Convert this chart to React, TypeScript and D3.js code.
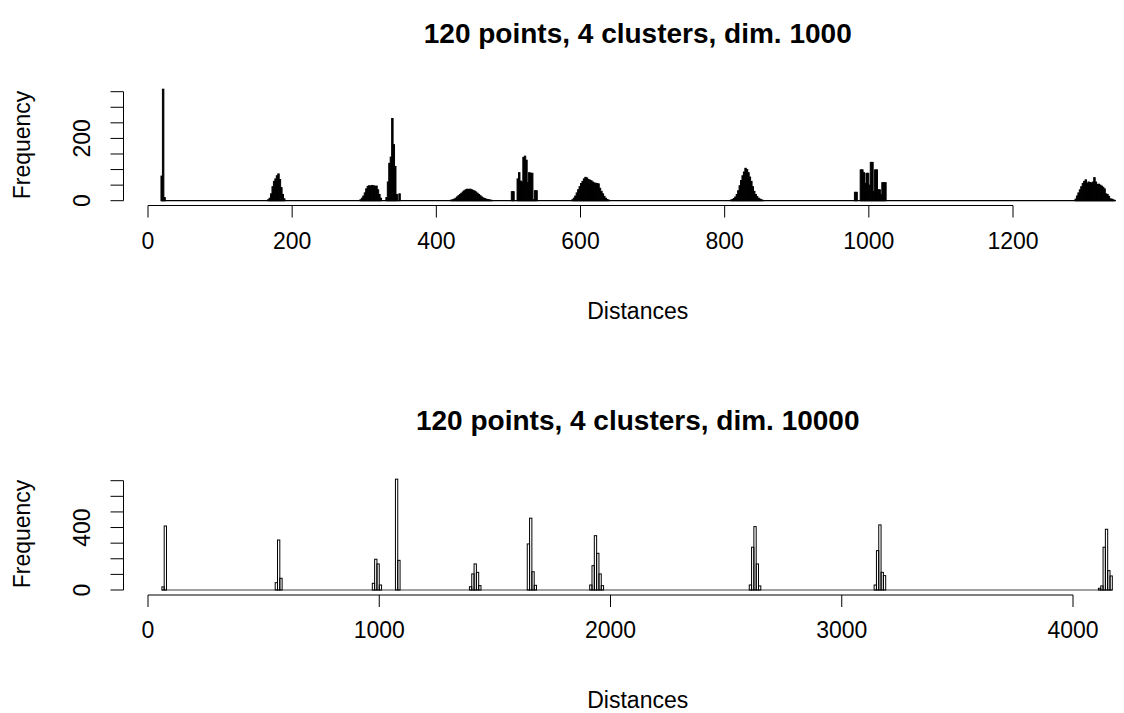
import { useEffect, useRef } from "react";
import * as d3 from "d3";

// top panel: dim. 1000, bins of width 2
const topTitle = "120 points, 4 clusters, dim. 1000";
const topBinWidth = 2;
const topBreakRange = [18, 1342];
const topClusterStarts = [18, 166, 294, 330, 420, 504, 588, 808, 980, 1286];
const topClusterCounts = [
  [79, 358, 10],
  [3, 8, 22, 45, 62, 70, 80, 86, 68, 42, 20, 6],
  [3, 8, 15, 25, 38, 46, 48, 47, 49, 48, 46, 47, 35, 20, 8],
  [10, 60, 120, 140, 264, 180, 110, 20, 0, 22],
  [2, 3, 5, 8, 12, 16, 20, 24, 28, 32, 35, 37, 36, 37, 35, 33, 31, 28, 24, 20, 16, 12, 9, 7, 5, 4, 3, 2, 1],
  [29, 29, 0, 0, 70, 90, 63, 60, 139, 143, 130, 58, 90, 88, 88, 3, 32, 32],
  [3, 8, 15, 25, 35, 45, 55, 62, 70, 75, 73, 68, 66, 64, 60, 57, 56, 55, 54, 40, 30, 22, 14, 8, 4, 2],
  [2, 4, 7, 12, 20, 32, 48, 65, 80, 92, 104, 100, 90, 76, 62, 45, 30, 20, 13, 8, 5, 3, 1],
  [27, 27, 0, 0, 99, 99, 90, 55, 88, 88, 50, 123, 123, 29, 99, 99, 35, 35, 19, 58, 58, 58],
  [5, 15, 25, 35, 45, 55, 62, 67, 56, 60, 58, 57, 60, 74, 60, 52, 53, 50, 47, 43, 38, 22, 20, 14, 6, 5, 3, 1],
];
const topXTicks = [0, 200, 400, 600, 800, 1000, 1200];
const topYTicks = [0, 50, 100, 150, 200, 250, 300, 350];
const topYLabels = [0, 200];

// bottom panel: dim. 10000, bins of width 10
const bottomTitle = "120 points, 4 clusters, dim. 10000";
const bottomBinWidth = 10;
const bottomBreakRange = [60, 4170];
const bottomClusterStarts = [60, 550, 970, 1070, 1390, 1640, 1910, 2600, 3140, 4110];
const bottomClusterCounts = [
  [20, 410],
  [47, 320, 75],
  [43, 197, 167, 32],
  [710, 190],
  [21, 103, 167, 113, 28],
  [295, 460, 117, 30],
  [32, 156, 348, 235, 103, 28],
  [32, 274, 406, 167, 26],
  [32, 252, 417, 113, 92],
  [11, 26, 274, 389, 124, 90],
];
const bottomXTicks = [0, 1000, 2000, 3000, 4000];
const bottomYTicks = [0, 100, 200, 300, 400, 500, 600, 700];
const bottomYLabels = [0, 400];

const xLabel = "Distances";
const yLabel = "Frequency";

const W = 1124;
const H = 713;
const FONT = "'Liberation Sans', Arial, sans-serif";
const AXIS_FS = 23;
const TITLE_FS = 28;

function buildBins(range, width, starts, counts) {
  const lookup = new Map();
  starts.forEach((s, i) => counts[i].forEach((c, j) => lookup.set(s + j * width, c)));
  const bins = [];
  for (let b = range[0]; b < range[1]; b += width) {
    bins.push({ x0: b, x1: b + width, count: lookup.get(b) || 0 });
  }
  return bins;
}

const panels = [
  {
    title: topTitle,
    bins: buildBins(topBreakRange, topBinWidth, topClusterStarts, topClusterCounts),
    breakRange: topBreakRange,
    xTicks: topXTicks,
    yTicks: topYTicks,
    yLabels: topYLabels,
    xDomain: [0, 1200],
    xRange: [148, 1013],
    yDomain: [0, 350],
    yRange: [200.7, 91.7],
    axisY: 205.5,
    axisX: 123.5,
    midY: 145,
    titleY: 43,
    barFill: "#000",
    baseColor: "#000",
  },
  {
    title: bottomTitle,
    bins: buildBins(bottomBreakRange, bottomBinWidth, bottomClusterStarts, bottomClusterCounts),
    breakRange: bottomBreakRange,
    xTicks: bottomXTicks,
    yTicks: bottomYTicks,
    yLabels: bottomYLabels,
    xDomain: [0, 4000],
    xRange: [148, 1073],
    yDomain: [0, 700],
    yRange: [590, 480.7],
    axisY: 595,
    axisX: 123.5,
    midY: 534,
    titleY: 430,
    barFill: "none",
    baseColor: "#444",
  },
];

export default function App() {
  const svgRef = useRef<SVGSVGElement>(null);

  useEffect(() => {
    const svg = d3.select(svgRef.current);
    svg.selectAll("*").remove();
    svg.append("rect").attr("width", W).attr("height", H).attr("fill", "#fff");

    panels.forEach((p) => {
      const x = d3.scaleLinear().domain(p.xDomain).range(p.xRange);
      const y = d3.scaleLinear().domain(p.yDomain).range(p.yRange);
      const g = svg.append("g");
      const plotMid = (p.axisX + 1152) / 2;

      // baseline made by the empty bins
      g.append("line")
        .attr("x1", x(p.breakRange[0]))
        .attr("x2", x(p.breakRange[1]))
        .attr("y1", y(0))
        .attr("y2", y(0))
        .attr("stroke", p.baseColor)
        .attr("stroke-width", 1.2);

      g.selectAll("rect.bar")
        .data(p.bins.filter((d) => d.count > 0))
        .join("rect")
        .attr("class", "bar")
        .attr("x", (d) => x(d.x0))
        .attr("width", (d) => x(d.x1) - x(d.x0))
        .attr("y", (d) => y(d.count))
        .attr("height", (d) => y(0) - y(d.count))
        .attr("fill", p.barFill)
        .attr("stroke", "#000")
        .attr("stroke-width", 1);

      // x axis
      const xa = g.append("g").attr("stroke", "#000").attr("stroke-width", 1);
      xa.append("line")
        .attr("x1", x(p.xTicks[0]))
        .attr("x2", x(p.xTicks[p.xTicks.length - 1]))
        .attr("y1", p.axisY)
        .attr("y2", p.axisY);
      xa.selectAll("line.tick")
        .data(p.xTicks)
        .join("line")
        .attr("class", "tick")
        .attr("x1", (d) => x(d))
        .attr("x2", (d) => x(d))
        .attr("y1", p.axisY)
        .attr("y2", p.axisY + 12);
      g.selectAll("text.xlab")
        .data(p.xTicks)
        .join("text")
        .attr("class", "xlab")
        .attr("x", (d) => x(d))
        .attr("y", p.axisY + 43)
        .attr("text-anchor", "middle")
        .attr("font-family", FONT)
        .attr("font-size", AXIS_FS)
        .text((d) => d);

      // y axis
      const ya = g.append("g").attr("stroke", "#000").attr("stroke-width", 1);
      ya.append("line")
        .attr("x1", p.axisX)
        .attr("x2", p.axisX)
        .attr("y1", y(p.yTicks[0]))
        .attr("y2", y(p.yTicks[p.yTicks.length - 1]));
      ya.selectAll("line.tick")
        .data(p.yTicks)
        .join("line")
        .attr("class", "tick")
        .attr("x1", p.axisX)
        .attr("x2", p.axisX - 13)
        .attr("y1", (d) => y(d))
        .attr("y2", (d) => y(d));
      g.selectAll("text.ylab")
        .data(p.yLabels)
        .join("text")
        .attr("class", "ylab")
        .attr("transform", (d) => `translate(89.5,${y(d)}) rotate(-90)`)
        .attr("text-anchor", "middle")
        .attr("font-family", FONT)
        .attr("font-size", AXIS_FS)
        .text((d) => d);

      // labels
      g.append("text")
        .attr("transform", `translate(30,${p.midY}) rotate(-90)`)
        .attr("text-anchor", "middle")
        .attr("font-family", FONT)
        .attr("font-size", AXIS_FS)
        .text(yLabel);
      g.append("text")
        .attr("x", plotMid)
        .attr("y", p.axisY + 113)
        .attr("text-anchor", "middle")
        .attr("font-family", FONT)
        .attr("font-size", AXIS_FS)
        .text(xLabel);
      g.append("text")
        .attr("x", plotMid)
        .attr("y", p.titleY)
        .attr("text-anchor", "middle")
        .attr("font-family", FONT)
        .attr("font-size", TITLE_FS)
        .attr("font-weight", "bold")
        .text(p.title);
    });
  }, []);

  return (
    <svg
      ref={svgRef}
      width={W}
      height={H}
      style={{ position: "absolute", left: 0, top: 0 }}
    ></svg>
  );
}
